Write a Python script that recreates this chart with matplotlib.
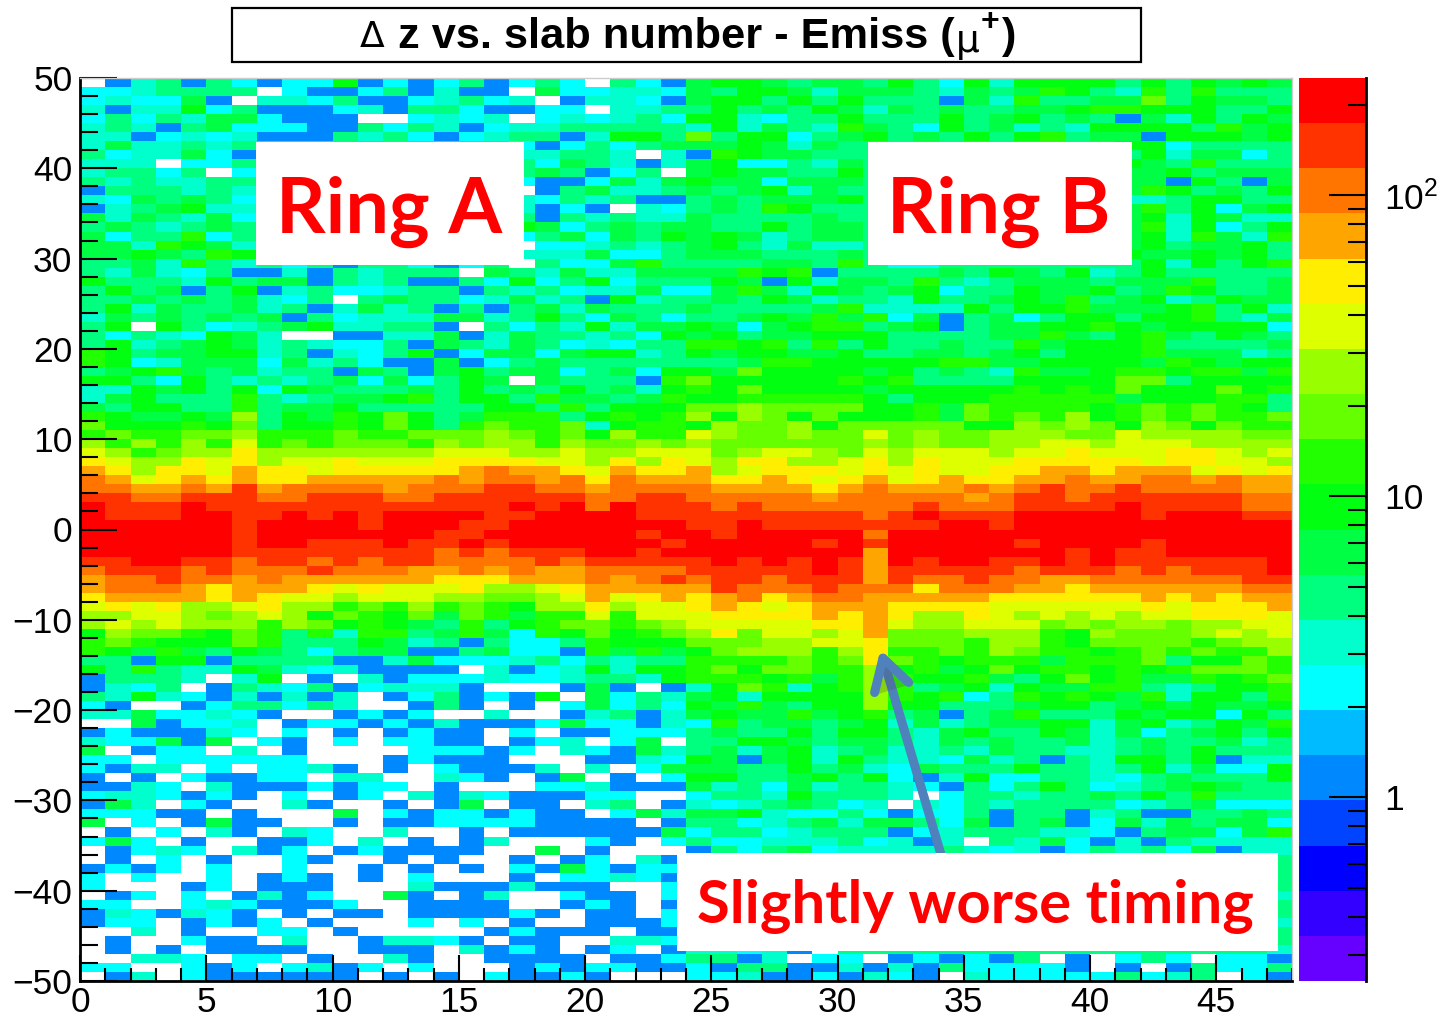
import matplotlib
matplotlib.use('Agg')
import matplotlib.pyplot as plt
import numpy as np
from matplotlib.colors import ListedColormap, BoundaryNorm
from matplotlib.patches import Rectangle
from matplotlib.ticker import MultipleLocator, LogLocator, FixedFormatter, FixedLocator, NullFormatter
import matplotlib.patheffects as pe

plt.rcParams['font.family'] = ['Liberation Sans', 'DejaVu Sans']
plt.rcParams['mathtext.fontset'] = 'custom'
plt.rcParams['mathtext.rm'] = 'Liberation Sans'
plt.rcParams['mathtext.default'] = 'regular'
plt.rcParams['axes.unicode_minus'] = True

W, H = 1443, 1018

# colour bands, top of the palette first; a cell holds the code of its band, '.' is empty
band_codes = "0123456789abcdefghij"
band_colors = ['#ff0000', '#ff3300', '#ff7500', '#ffa500', '#ffee00', '#ddff00', '#99ff00', '#66ff00',
               '#22ff00', '#00ff11', '#00ff44', '#00ff7f', '#00ffcc', '#00ffff', '#00bbff', '#0088ff',
               '#0044ff', '#0000ff', '#3300ff', '#6600ff']
z_min = 0.245
z_max = 245.0

# slab bins 0-23, top row (y = 49..50) first
ring_a_rows = [
    ".fcbfb" "dfdd9f" "dfdbfd" "bd.bdf",
    "ddcbbb" "b.dffd" "bfcff." "addccd",
    "dcddaf" ".ccdbf" "fdcbdc" ".fccdf",
    "cfcc9d" "bfffdc" "fbbdff" "dd.ccb",
    "dbdbca" "adfff." ".dcdc." "dcdcbd",
    "cbcfba" "dddffb" "dbcfdc" "cbbbbb",
    "ccfdcd" "cfffbc" "bdfdcb" "bfc99b",
    "caccbcb" "bbbbbbbbbb" "dfdbdba",
    "bdccadf" "bbbbbbbbbb" "ccbbc.c",
    "ccc.ddb" "bbbbbbbbbb" "bdabcfc",
    "cbbdb.d" "bbbbbbbbbb" "babfdb.",
    "bcbccbb" "bbbbbbbbbb" "dffdaca",
    "fbbbcbc" "bbbbbbbbbb" ".fbaccb",
    "cdababd" "bbbbbbbbbb" "cdbcbff",
    "fcba9cc" "bbbbbbbbbb" "cfdf.cd",
    "acabcad" "bbbbbbbbbb" "bfbcbcc",
    "babcbab" "bbbbbbbbbb" "9adbaba",
    "adbb8db" "bbbbbbbbbb" "dbadab9",
    "aac89ac" "bbbbbbbbbb" ".ddcbcb",
    "aa9ab89" "bbbbbbbbbb" "cccaddb",
    "bbac8bc" "bdbfbbdfdb" ".bdda8b",
    "bcacdb" "ffcfbc" "bbb.ab" "caccaa",
    "9bbbc9" "baafbc" "bffbd9" "db9dbb",
    "b9bafb" "9fcbdd" "cbbfbc" "bdccad",
    "bbabab" "acdb.b" "abbdca" "cbf9cb",
    "b9cabb" "acbfca" "cbfbfb" "acabbb",
    "cababa" "bafbdc" "ccaacb" "9bdabd",
    "b9.9bd" "cba9cc" "bbf.bd" "bc9caa",
    "bdbcd9" "ac..ff" "ccafca" "bbcbd9",
    "b9cba9" "acbcdd" "bfabca" "bdcdbb",
    "89baa9" "9cbfcd" "b9fdaa" "da99cb",
    "89dcaa" "adacbd" "ffafdb" "abbbbb",
    "ba98ab" "acbbfa" "bfa9ba" "adbad9",
    "99bd9b" "cbcbad" "adb9a." "abbbf8",
    "cc9a9b" "9d9abb" "bab9ba" "b9bac9",
    "ca9bbb" "8bcbaa" "98b99b" "8aaba8",
    "ab99bb" "8baa9b" "bbbb99" "b8b999",
    "89aa9a" "6b9a89" "79ba88" "8b9898",
    "799989" "7b9989" "79b878" "87c988",
    "878877" "688878" "877767" "879688",
    "686868" "587877" "786766" "867767",
    "568766" "466666" "665556" "656655",
    "456645" "465545" "554444" "556464",
    "346445" "344544" "444323" "345344",
    "235434" "344333" "332322" "324233",
    "223323" "132222" "322211" "223222",
    "112211" "122111" "221111" "112211",
    "011101" "111111" "111110" "102011",
    "011100" "110101" "000011" "000011",
    "000000" "100001" "000110" "000000",
    "000000" "100000" "001100" "000010",
    "000000" "100111" "011010" "000001",
    "000000" "111111" "112121" "110010",
    "110011" "211212" "112222" "121111",
    "211121" "222122" "233232" "332222",
    "322122" "323333" "334443" "332321",
    "322234" "333454" "555466" "543333",
    "433334" "345565" "556677" "653543",
    "545466" "546687" "868789" "664655",
    "665567" "656978" "97a78a" "885855",
    "656566" "686798" "9ab8b9" "877876",
    "967789" "78b8c8" "8ba8ad" "897987",
    "878999" "78bbb9" "acbfbd" "db8999",
    "89a8ab" "9abdba" "affbad" "df8a8a",
    "bbf99f" "bbbbff" "cadddc" "bdbcbb",
    "9b8bcc" "9acdcf" "fff.cf" "dc9c99",
    "fbbbc." "c9.f.c" "fdddcd" "dcbbc9",
    "fcdb.f" "bcdbfd" "cccf.." ".faf.f",
    "bc9cdf" "cfcfc." "fdbfdf" "9.adbc",
    "df..fd" "bbdbc." ".fbf.f" ".dadbd",
    "ccaddc" "df..fd" "fd..c." ".fcbfc",
    "..afdd" "c.fddf" "dfcfff" "daddfc",
    "fdfffc" "d.d.f." "fdff.d" ".ffddd",
    "cddafa" ".df.d." "ddff.f" "dc.da.",
    "a.fdd." "c.f..." ".dddfd" ".cdfac",
    "dd.ddd" "ddd..." "fdfff." "..ffcd",
    "dfcc.d" ".ddcf." "f.dfff" "c.c.da",
    "f.f.df" "fdd.cc" "..cdf." "fa.f.d",
    "ffcd.c" "fffdfd" "d.f..." "ddcfff",
    "dccdfd" "f.d.fd" ".cfcdf" "ffdd..",
    "fac.df" "..cf.." "f.fa.f" "f.cb.f",
    "dddff." "f...a." "dfddfd" "ff.dac",
    "a.d.fa" "ff..f." "ffdddd" "ffff.f",
    ".f.d.c" "f.cd.." "c..f.f" "fffffa",
    "dad.f." ".ffd.c" ".f.fc." "..df.d",
    ".fdcd." "cfd.fd" "ffff.." "a.f...",
    ".f.d.f" "..df.." "f.f..f" ".fd.cf",
    "fdfd.d" "..d..f" ".f.f.d" "fadfdd",
    "d.d..d" ".fdf.f" ".d...f" ".ddcdf",
    "d...fd" ".fff.." ".cfffc" "fff..d",
    ".fd.d." "fcfd.." "af.fc." ".dff.d",
    "dd..dc" "dfffd." ".ffff." ".fdf.f",
    "fcdfcd" "f.f.ff" ".ffffd" "f.ff.d",
    "fdd.fd" "fd.f.." ".d.d.f" "..fffd",
    "..c.f." ".dd.f." "....fd" "fff.ff",
    ".f..df" "f.c..f" "ccdf.f" "f..ccd",
    ".f.f.f" "fff..f" "ff.cfd" "f.fd.f",
    "..ccd." "dd.f.." "cf..ff" "ff.ffd",
    "dd..df" "d.dcfd" ".d...f" "dfddff",
    ".fc.df" "fffff." "f.f.df" "fdf...",
]

# slab bins 24-47, same row order
ring_b_rows = [
    "a99aba" "ab9bd9" "c9999b" "9b9a9a",
    "ab99ac" "aaabca" "ba89bc" "8b8bbb",
    "a99b9b" "9bbbfa" "c8bbaa" "7b9aab",
    "b9bab9" "acabab" "baa988" "999bb9",
    "99cdbb" "9bbb9b" "a9babf" "ac9b9a",
    "c9cabc" "8abd9b" "acbc99" "99b8a9",
    "7b99db" "a9bab9" "b98baa" "f999a9",
    "aa9acab" "bbbbbbbbbb" "99dbbbb",
    "f89aabb" "bbbbbbbbbb" "b9caadb",
    "a9ddbca" "bbbbbbbbbb" "9ab8bbb",
    "a9aabb9" "bbbbbbbbbb" "aa9baaa",
    "9aadaaa" "bbbbbbbbbb" "aaf9bfa",
    "aba9cab" "bbbbbbbbbb" "a89bab9",
    "babaaa9" "bbbbbbbbbb" "ccb99bb",
    "bab89bb" "bbbbbbbbbb" "a8b9da9",
    "abbbbab" "bbbbbbbbbb" "a9c9acc",
    "abb9baa" "bbbbbbbbbb" "a8c9db9",
    "a9acbaa" "bbbbbbbbbb" "a9c8ac8",
    "a9bcacc" "bbbbbbbbbb" "a9baa9b",
    "aaabbba" "bbbbbbbbbb" "9aa9a9b",
    "bbbaab8" "bddbbbbbbb" "b9c9b98",
    "aa898f" "bbbbab" "9ab9cb" "9bbbbb",
    "b9af9c" "aab8bc" "baaaba" "aa8bba",
    "da8ac9" "aba9db" "b9aa9b" "a89bba",
    "bab9ac" "bbc9bb" "a9a8ba" "9cb9aa",
    "abbbba" "8cccc9" "b998aa" "a98b9c",
    "bba9a8" "a8dafb" "adb99b" "998bca",
    "9ada98" "8ba9fb" "aa9989" "a9999d",
    "a9baa9" "99bbbb" "aa8ab9" "8ab9ab",
    "8898b8" "b9bbab" "b8a999" "8bbbba",
    "9a99aa" "9bbaab" "a9b999" "8aaacb",
    "bba889" "999988" "aa9999" "a89a99",
    "9a7999" "9a9bab" "c8aa98" "8988a8",
    "799999" "898bbb" "b99997" "7b9999",
    "897999" "9a9999" "989897" "999798",
    "998888" "89b999" "88888a" "99988b",
    "776777" "7998a7" "888898" "78789b",
    "696797" "9998a7" "878698" "787887",
    "967769" "777779" "967679" "679788",
    "567767" "757677" "666775" "666677",
    "677777" "767677" "665565" "556666",
    "576556" "756555" "655455" "544565",
    "564466" "546455" "544444" "544556",
    "365444" "545455" "443343" "335454",
    "344345" "435434" "433233" "223233",
    "233334" "323332" "321221" "222233",
    "222223" "222223" "211211" "111122",
    "121222" "222122" "211110" "111122",
    "111111" "121011" "100000" "100011",
    "110111" "111100" "100000" "000000",
    "010000" "020000" "000000" "000000",
    "000001" "010000" "010000" "100000",
    "000000" "030000" "000101" "100000",
    "101010" "130100" "110101" "111110",
    "111110" "131111" "121112" "121110",
    "211211" "131221" "223322" "222211",
    "312221" "222422" "233433" "333322",
    "432432" "233333" "444444" "343433",
    "434543" "334444" "555555" "454443",
    "544443" "434664" "565656" "554445",
    "555554" "435665" "557676" "676655",
    "647556" "537776" "668967" "776565",
    "777665" "547778" "668977" "778766",
    "976668" "648878" "678898" "787886",
    "888878" "747898" "88a888" "7b9978",
    "879778" "8698a9" "798898" "987778",
    "88898a" "868998" "ab9798" "aa8987",
    "c978c9" "868ba9" "c9aa88" "bcb998",
    "a9c999" "96898d" "b8989a" "8c99b8",
    "9a8ab9" "9699bb" "ba99ba" "9a9aa9",
    "a9aa8a" "98bafb" "a8bbb9" "a99d9b",
    "d8baab" "a9cacb" "aa99ca" "9cb9a8",
    "babb9b" "99bca9" "bb9aca" "dba9b9",
    "bb99ab" "aabcab" "abbacb" "abbacb",
    "baca9c" "baccbc" "abbccb" "ab9bbb",
    "9afa9c" "9bccda" "cbfbc9" "9b9fcc",
    "aabb9b" "acdabb" "b9bbcb" "9cadd9",
    "99bba9" "b9dfc9" "ddbbcd" "babbb9",
    "acbdac" "bbcdfb" "db9bdc" "ba9abb",
    "dbbc9b" "bbc.db" "bcbbab" "9b8bbb",
    "cdcbab" "dc.cdb" "cbbbbd" "cbaddd",
    "aa9cdd" "bdfddb" "fbbfcb" "ffbbab",
    "bbdcba" "caabda" "fbafda" "cabaad",
    "dbbdcb" "bbfdcb" "bbccdf" "baada8",
    "bddccc" "bdcfc." "bcadfc" "fbcccc",
    "fbdbad" "ccccbc" "dcfdbc" "bdafcc",
    "bbbbbb" "bbbbbb" "bbbbbb" "bbbbbb",
    "bbbbbb" "bbbbbb" "bbbbbb" "bbbbbb",
    "bbbbbb" "bbbbbb" "bbbbbb" "bbbbbb",
    "bbbbbb" "bbbbbb" "bbbbbb" "bbbbbb",
    "bbbbbb" "bbbbbb" "bbbbbb" "bbbbbc",
    "bbbbbb" "bbbbbb" "bbbbbb" "bbbbbb",
    "bbbbbb" "bbbbbb" "bbbbbb" "bbbbbb",
    "bbbbbb" "bbbbbb" "bbbbbb" "bbbbbc",
    "bbbbbb" "bbbbbb" "bbbbbb" "bbbbbb",
    "bbbbbb" "bbbbbb" "bbbbbb" "bbbbbb",
    "ccdcf." "bbbbbb" "bbbbbb" "bbbbbc",
    "bbfc.d" "d.fdfd" "fb.f.d" "bd.ddf",
    "dfbbff" "cfcfbd" "dddf.f" ".fbddb",
    "ddcffd" "fcdf.c" "dddddb" "dcb.df",
]

x_edges = np.arange(49)
y_edges = np.arange(-50, 51)
x_ticks = [0, 5, 10, 15, 20, 25, 30, 35, 40, 45]
y_ticks = [-50, -40, -30, -20, -10, 0, 10, 20, 30, 40, 50]

# log spaced band edges, 20 bands over 3 decades
edges = z_min * (z_max / z_min) ** (np.arange(21) / 20)
centers = np.sqrt(edges[:-1] * edges[1:])[::-1]

z = np.full((100, 48), np.nan)
for i, (a, b) in enumerate(zip(ring_a_rows, ring_b_rows)):
    for j, code in enumerate(a + b):
        if code != '.':
            z[99 - i, j] = centers[band_codes.index(code)]

cmap = ListedColormap(band_colors[::-1])
cmap.set_bad('white')
norm = BoundaryNorm(edges, cmap.N)


def px_box(x0, y0, x1, y1):
    return [x0 / W, 1 - y1 / H, (x1 - x0) / W, (y1 - y0) / H]


fig = plt.figure(figsize=(W / 100, H / 100), dpi=100)

ax = fig.add_axes(px_box(80, 78, 1292, 981))
ax.pcolormesh(x_edges, y_edges, np.ma.masked_invalid(z), cmap=cmap, norm=norm, antialiased=False, linewidth=0, rasterized=True)
ax.set_xlim(0, 48)
ax.set_ylim(-50, 50)
ax.set_xticks(x_ticks)
ax.set_yticks(y_ticks)
ax.xaxis.set_minor_locator(MultipleLocator(1))
ax.yaxis.set_minor_locator(MultipleLocator(2))
ax.tick_params(axis='x', which='major', direction='in', length=19, width=1.5, labelsize=25.5, pad=3.5)
ax.tick_params(axis='x', which='minor', direction='in', length=9.5, width=1.5)
ax.tick_params(axis='y', which='major', direction='in', length=26.5, width=1.5, labelsize=25.5, pad=5.5)
ax.tick_params(axis='y', which='minor', direction='in', length=13, width=1.5)
for side in ['left', 'bottom']:
    ax.spines[side].set_linewidth(2)
for side in ['top', 'right']:
    ax.spines[side].set_color('#cccccc')
    ax.spines[side].set_linewidth(1)

# palette bar
bar = fig.add_axes(px_box(1299, 78, 1366, 981))
bar.pcolormesh([0, 1], edges, centers[::-1].reshape(-1, 1), cmap=cmap, norm=norm, antialiased=False, linewidth=0)
bar.set_yscale('log')
bar.set_ylim(z_min, z_max)
bar.set_xticks([])
bar.yaxis.tick_right()
bar.yaxis.set_major_locator(FixedLocator([1, 10, 100]))
bar.yaxis.set_major_formatter(FixedFormatter(['1', '10', '$10^2$']))
bar.yaxis.set_minor_locator(LogLocator(base=10, subs=np.arange(2, 10), numticks=10))
bar.yaxis.set_minor_formatter(NullFormatter())
bar.tick_params(axis='y', which='major', direction='in', length=26.5, width=1.5, labelsize=25.5, pad=13)
bar.tick_params(axis='y', which='minor', direction='in', length=13, width=1.5)
for side in ['left', 'top', 'bottom']:
    bar.spines[side].set_visible(False)
bar.spines['right'].set_linewidth(2)

# title box
fig.add_artist(Rectangle((232 / W, 1 - 62 / H), 909 / W, 54 / H, transform=fig.transFigure,
                         facecolor='white', edgecolor='black', linewidth=1.6))
title_y = 1 - 37 / H
fig.text(360 / W, title_y, '\u0394', fontsize=26, family='DejaVu Sans', va='center', ha='left')
fig.text(398 / W, title_y, 'z vs. slab number - Emiss (', fontsize=31.2, fontweight='bold', va='center', ha='left')
fig.text(956 / W, 1 - 42 / H, '\u03bc', fontsize=27, family='DejaVu Sans', va='center', ha='left')
fig.text(981 / W, 1 - 22 / H, '+', fontsize=23, fontweight='bold', va='center', ha='left')
fig.text(1002 / W, title_y, ')', fontsize=31.2, fontweight='bold', va='center', ha='left')

# annotation boxes
labels = [
    ((256, 142, 524, 265), 'Ring A', 389, 212, 55.5),
    ((868, 142, 1132, 265), 'Ring B', 999, 212, 55.5),
    ((677, 853, 1278, 951), 'Slightly worse timing', 975, 907, 43),
]
for (x0, y0, x1, y1), txt, tx, ty, fs in labels:
    fig.add_artist(Rectangle((x0 / W, 1 - y1 / H), (x1 - x0) / W, (y1 - y0) / H, transform=fig.transFigure,
                             facecolor='white', edgecolor='none', zorder=5))
    fig.text(tx / W, 1 - ty / H, txt, color='#ff0000', fontsize=fs, fontweight='bold', family='Lato',
             ha='center', va='center', zorder=6)

ax.annotate('', xy=(31.7, -13.3), xytext=(34.1, -36.0),
            arrowprops=dict(arrowstyle='->,head_length=0.55,head_width=0.32', color='#4f81bd', lw=6.5,
                            mutation_scale=40, shrinkA=0, shrinkB=0, capstyle='round',
                            path_effects=[pe.SimplePatchShadow(offset=(1, -1.5), alpha=0.25), pe.Normal()]))

fig.savefig('out.png', dpi=100)
